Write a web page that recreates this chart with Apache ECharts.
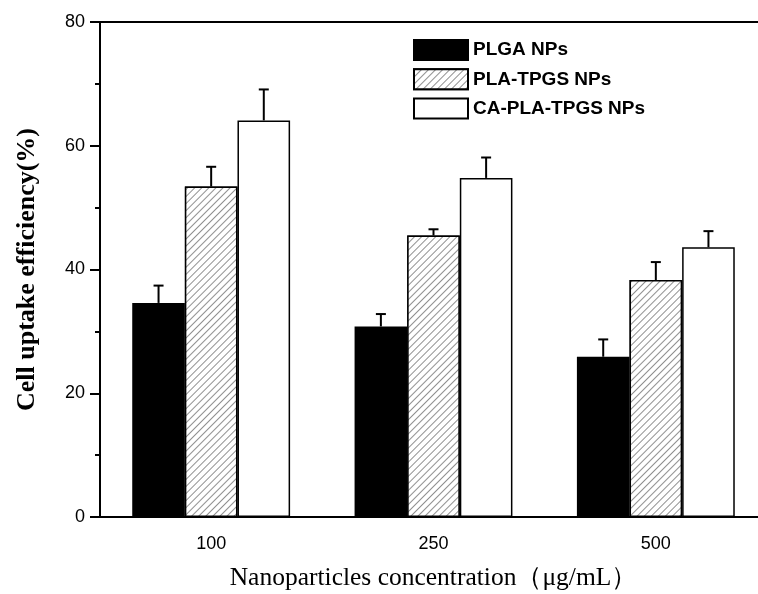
<!DOCTYPE html>
<html>
<head>
<meta charset="utf-8">
<script src="https://cdn.jsdelivr.net/npm/echarts@6/dist/echarts.min.js"></script>
<style>
  html, body { margin: 0; padding: 0; background: #fff; }
  #chart { width: 758px; height: 594px; }
</style>
</head>
<body>
<div id="chart"></div>
<script>
const categories = ['100', '250', '500']
const seriesNames = ['PLGA NPs', 'PLA-TPGS NPs', 'CA-PLA-TPGS NPs']
const plga = [34.6, 30.8, 25.9]
const plaTpgs = [53.4, 45.5, 38.3]
const caPlaTpgs = [64.1, 54.8, 43.6]
const errPlga = [2.8, 2.0, 2.8]
const errPlaTpgs = [3.2, 1.0, 2.9]
const errCaPlaTpgs = [5.0, 3.3, 2.6]

const CAT_GAP = 0.29
const values = [plga, plaTpgs, caPlaTpgs]
const errors = [errPlga, errPlaTpgs, errCaPlaTpgs]

// error bar points: [category, value, error, seriesIndex]
const errData = []
values.forEach((arr, s) => {
  arr.forEach((v, i) => errData.push([i, v, errors[s][i], s]))
})

const hatch = {
  symbol: 'rect',
  color: '#909090',
  backgroundColor: '#fff',
  dashArrayX: [1, 0],
  dashArrayY: [1, 3.4],
  rotation: -Math.PI / 4
}

const chart = echarts.init(document.getElementById('chart'))

const renderErr = (params, api) => {
  const ci = api.value(0)
  const v = api.value(1)
  const e = api.value(2)
  const s = api.value(3)
  const base = api.coord([ci, v])
  const top = api.coord([ci, v + e])
  const band = api.size([1, 0])[0]
  const bw = band * (1 - CAT_GAP) / 3
  const x = base[0] + (s - 1) * bw
  const st = { stroke: '#000', lineWidth: 2 }
  return {
    type: 'group',
    children: [
      { type: 'line', shape: { x1: x, y1: base[1], x2: x, y2: top[1] }, style: st },
      { type: 'line', shape: { x1: x - 5, y1: top[1], x2: x + 5, y2: top[1] }, style: st }
    ]
  }
}

const option = {
  animation: false,
  grid: { left: 100, top: 22, width: 667, height: 495, outerBoundsMode: 'none', containLabel: false },
  legend: {
    orient: 'vertical',
    left: 408,
    top: 34,
    itemWidth: 54,
    itemHeight: 20,
    itemGap: 7.3,
    icon: 'rect',
    textStyle: { fontFamily: 'Liberation Sans', fontWeight: 'bold', fontSize: 19, color: '#000' },
    data: seriesNames
  },
  xAxis: [
    {
      type: 'category',
      data: categories,
      position: 'bottom',
      axisLine: { lineStyle: { color: '#000', width: 2 } },
      axisTick: { alignWithLabel: true, length: 11, lineStyle: { color: '#000', width: 2 } },
      axisLabel: { color: '#000', fontFamily: 'Liberation Sans', fontSize: 18, margin: 18 },
      name: 'Nanoparticles concentration（μg/mL）',
      nameLocation: 'middle',
      nameGap: 48,
      nameTextStyle: { fontFamily: 'Liberation Serif', fontSize: 25.5, color: '#000' }
    },
    {
      type: 'category',
      data: categories,
      position: 'bottom',
      axisLine: { show: false },
      axisTick: { length: 5, lineStyle: { color: '#000', width: 2 } },
      axisLabel: { show: false }
    },
    {
      type: 'category',
      data: categories,
      position: 'top',
      axisLine: { lineStyle: { color: '#000', width: 2 } },
      axisTick: { show: false },
      axisLabel: { show: false }
    }
  ],
  yAxis: {
    type: 'value',
    min: 0,
    max: 80,
    interval: 20,
    axisLine: { show: true, lineStyle: { color: '#000', width: 2 } },
    axisTick: { show: true, length: 10, lineStyle: { color: '#000', width: 2 } },
    minorTick: { show: true, splitNumber: 2, length: 5, lineStyle: { color: '#000', width: 2 } },
    splitLine: { show: false },
    axisLabel: { color: '#000', fontFamily: 'Liberation Sans', fontSize: 18, margin: 15 },
    name: 'Cell uptake efficiency(%)',
    nameLocation: 'middle',
    nameGap: 60,
    nameTextStyle: { fontFamily: 'Liberation Serif', fontWeight: 'bold', fontSize: 26, color: '#000' }
  },
  series: [
    {
      name: seriesNames[0],
      type: 'bar',
      data: plga,
      barGap: '0%',
      barCategoryGap: (CAT_GAP * 100) + '%',
      itemStyle: { color: '#000', borderColor: '#000', borderWidth: 1.5 }
    },
    {
      name: seriesNames[1],
      type: 'bar',
      data: plaTpgs,
      barGap: '0%',
      barCategoryGap: (CAT_GAP * 100) + '%',
      itemStyle: { color: '#fff', borderColor: '#000', borderWidth: 1.5, decal: hatch }
    },
    {
      name: seriesNames[2],
      type: 'bar',
      data: caPlaTpgs,
      barGap: '0%',
      barCategoryGap: (CAT_GAP * 100) + '%',
      itemStyle: { color: '#fff', borderColor: '#000', borderWidth: 1.5 }
    },
    {
      type: 'custom',
      data: errData,
      renderItem: renderErr,
      encode: { x: 0, y: 1 },
      z: 5,
      silent: true
    }
  ]
}

chart.setOption(option)
</script>
</body>
</html>
